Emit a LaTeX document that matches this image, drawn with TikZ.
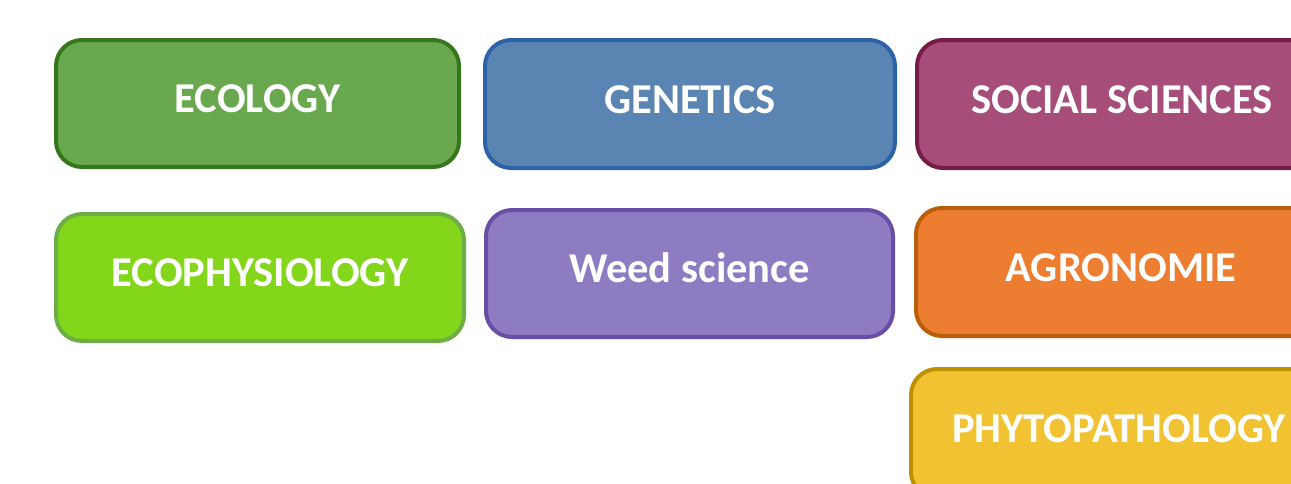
\documentclass[tikz,border=0pt]{standalone}
\usepackage{fontspec}
\setmainfont{Carlito}
\definecolor{ecoF}{HTML}{6AA84F}\definecolor{ecoD}{HTML}{38761D}
\definecolor{genF}{HTML}{5A85B3}\definecolor{genD}{HTML}{2E62A6}
\definecolor{socF}{HTML}{A64D79}\definecolor{socD}{HTML}{741B47}
\definecolor{ephF}{HTML}{84D61A}\definecolor{ephD}{HTML}{6DAD45}
\definecolor{weedF}{HTML}{8E7CC3}\definecolor{weedD}{HTML}{674EA7}
\definecolor{agrF}{HTML}{ED7D31}\definecolor{agrD}{HTML}{BB5E0A}
\definecolor{phyF}{HTML}{F1C232}\definecolor{phyD}{HTML}{BF9000}
\tikzset{
  discbox/.style={draw, line width=4pt, rounded corners=26pt, text=white,
    font=\bfseries\fontsize{42.5}{42.5}\selectfont, inner sep=0pt,
    text height=27pt, text depth=9pt, anchor=center}
}
\begin{document}
\begin{tikzpicture}[x=1pt,y=-1pt]
\useasboundingbox (0,0) rectangle (1291,483);
\clip (0,0) rectangle (1291,483);
\fill[white] (0,0) rectangle (1291,483);
\node[discbox, fill=ecoF, draw=ecoD, minimum width=403pt, minimum height=127pt] (ecology) at (257.5,103.5) {ECOLOGY};
\node[discbox, fill=genF, draw=genD, minimum width=410pt, minimum height=128pt] (genetics) at (690,104) {GENETICS};
\node[discbox, fill=socF, draw=socD, minimum width=410pt, minimum height=128pt] (social) at (1122,104) {SOCIAL SCIENCES};
\node[discbox, fill=ephF, draw=ephD, minimum width=408pt, minimum height=127pt] (ecophys) at (260,277.5) {ECOPHYSIOLOGY};
\node[discbox, fill=weedF, draw=weedD, minimum width=407pt, minimum height=127pt] (weed) at (689.5,273.5) {Weed science};
\node[discbox, fill=agrF, draw=agrD, minimum width=410pt, minimum height=128pt] (agro) at (1121,272) {AGRONOMIE};
\node[discbox, fill=phyF, draw=phyD, minimum width=416pt, minimum height=129pt] (phyto) at (1119,433.5) {PHYTOPATHOLOGY};
\end{tikzpicture}
\end{document}
